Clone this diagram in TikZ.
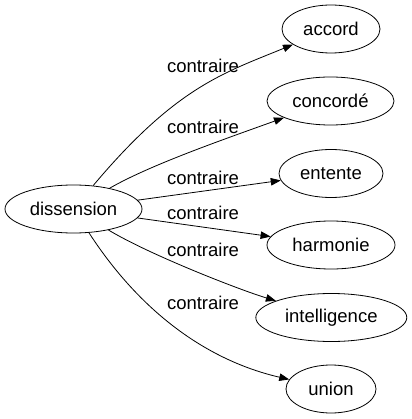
\documentclass[tikz,border=0pt]{standalone}
\usepackage{fontspec}
\setmainfont{Liberation Sans}
\usetikzlibrary{shapes.geometric,arrows.meta}
\begin{document}
\begin{tikzpicture}[x=1pt,y=-1pt,
  word/.style={draw,ellipse,line width=0.8pt,inner sep=0pt,minimum height=48pt,font=\fontsize{18.5}{20}\selectfont},
  lab/.style={font=\fontsize{18.5}{20}\selectfont,inner sep=0pt},
  rel/.style={line width=0.8pt,-{Triangle[length=10pt,width=7.5pt]}}]
\useasboundingbox (0,0) rectangle (411,419);
\node[word,minimum width=137pt] (d) at (73.5,209) {dissension};
\node[word,minimum width=98pt] (a1) at (331,29) {accord};
\node[word,minimum width=127pt] (a2) at (330.5,101) {concordé};
\node[word,minimum width=104pt] (a3) at (331,173.5) {entente};
\node[word,minimum width=128pt] (a4) at (331,245) {harmonie};
\node[word,minimum width=151pt] (a5) at (331.3,317.5) {intelligence};
\node[word,minimum width=90pt] (a6) at (331,389) {union};
\draw[rel] (d) .. controls (176,87) and (223.5,73) .. (a1);
\draw[rel] (d) .. controls (150,165) and (222,140) .. (a2);
\draw[rel] (d) -- (a3);
\draw[rel] (d) -- (a4);
\draw[rel] (d) .. controls (150,255) and (240,290) .. (a5);
\draw[rel] (d) .. controls (156,336) and (235,367) .. (a6);
\node[lab] (l1) at (203,66) {contraire};
\node[lab] (l2) at (203,127) {contraire};
\node[lab] (l3) at (203,178) {contraire};
\node[lab] (l4) at (203,213) {contraire};
\node[lab] (l5) at (203,250) {contraire};
\node[lab] (l6) at (203,303) {contraire};
\end{tikzpicture}
\end{document}
